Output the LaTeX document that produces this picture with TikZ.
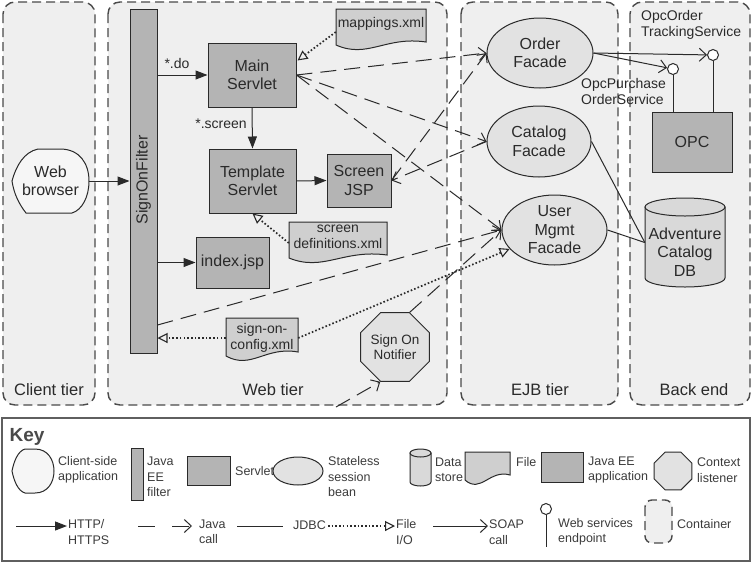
\documentclass[tikz,border=0pt]{standalone}
\usepackage{fontspec}
\setmainfont{Liberation Sans}
\usetikzlibrary{shapes.geometric,arrows.meta,calc}
\definecolor{cont}{HTML}{EFEFEF}
\definecolor{servletgray}{HTML}{B4B4B4}
\definecolor{beangray}{HTML}{E2E2E2}
\definecolor{filegray}{HTML}{CFCFCF}
\definecolor{dbgray}{HTML}{D9D9D9}
\definecolor{ink}{HTML}{2A2A2A}
\definecolor{keyink}{HTML}{3C3C3C}
\definecolor{clientfill}{HTML}{F6F6F6}
\newcommand\fsmain{\fontsize{16}{18.5}\selectfont}
\newcommand\fsfile{\fontsize{14}{15.5}\selectfont}
\newcommand\fssmall{\fontsize{14}{16}\selectfont}
\newcommand\fsnot{\fontsize{13.5}{14.5}\selectfont}
\newcommand\fskey{\fontsize{12.5}{15.5}\selectfont}
\newcommand\fstier{\fontsize{16.5}{19}\selectfont}
\newcommand\fskeyt{\fontsize{19}{21}\selectfont\bfseries}
\newcommand\docpath[5]{\draw[filestyle] (#1,#2) -- (#3,#2) -- (#3,#5) .. controls ({0.45*#1+0.55*#3},{#5-6}) and ({0.65*#1+0.35*#3},{#4+14}) .. (#1,#4) -- cycle;}
\tikzset{
  container/.style={draw=ink!85, line width=1.4pt, dash pattern=on 9pt off 5pt, rounded corners=12pt, fill=cont},
  servlet/.style={draw=ink, line width=1pt, fill=servletgray, inner sep=0pt, align=center, font=\fsmain, text=ink},
  bean/.style={ellipse, draw=ink, line width=1pt, fill=beangray, inner sep=0pt, align=center, font=\fsmain, text=ink},
  octo/.style={regular polygon, regular polygon sides=8, draw=ink, line width=1pt, fill=beangray, inner sep=0pt, align=center, font=\fsnot, text=ink},
  filestyle/.style={draw=ink, line width=1pt, fill=filegray},
  filelab/.style={inner sep=0pt, align=center, font=\fsfile, text=ink},
  tierlab/.style={font=\fstier, text=ink},
  smlab/.style={font=\fssmall, text=ink, inner sep=0pt},
  keylab/.style={font=\fskey, text=keyink, inner sep=0pt, anchor=west, align=left},
  endpt/.style={circle, draw=ink, line width=1pt, fill=white, minimum size=11pt, inner sep=0pt},
  http/.style={draw=ink, line width=1pt, -{Triangle[length=12pt,width=9pt]}},
  java/.style={draw=ink, line width=1pt, dash pattern=on 16pt off 8pt, -{Straight Barb[length=7pt,width=13pt,line width=1pt]}},
  fileio/.style={draw=ink, line width=1.7pt, dash pattern=on 1.6pt off 2.1pt, -{Triangle[open,length=10pt,width=10pt,line width=1.1pt]}},
  soap/.style={draw=ink, line width=1pt, -{Straight Barb[length=7pt,width=13pt,line width=1pt]}},
  jdbc/.style={draw=ink, line width=1pt},
}
\begin{document}
\begin{tikzpicture}[x=1pt,y=-1pt]
\useasboundingbox (0,0) rectangle (752,563);
\fill[white] (0,0) rectangle (752,563);

% containers
\draw[container] (3,2) rectangle (95,405);
\draw[container] (108,2) rectangle (447,405);
\draw[container] (461,2) rectangle (618,405);
\draw[container] (630,2) rectangle (750,405);
\node[tierlab] (lct) at (49,390) {Client tier};
\node[tierlab] (lwt) at (273,390) {Web tier};
\node[tierlab] (let) at (540,390) {EJB tier};
\node[tierlab] (lbe) at (694,390) {Back end};

% web browser (client-side application)
\draw[draw=ink, line width=1pt, fill=clientfill] (12,181) .. controls (16,166) and (24,152) .. (38,149) -- (60,149) .. controls (80,149) and (89,164) .. (89,181) .. controls (89,197) and (82,210) .. (72,213) -- (26,213) .. controls (19,204) and (14,194) .. (12,181) -- cycle;
\node[font=\fsmain, text=ink, align=center, minimum width=77pt, minimum height=64pt, inner sep=0pt] (wb) at (50.5,181) {Web\\browser};

% SignOnFilter
\node[servlet, minimum width=27pt, minimum height=344pt] (sof) at (143.5,181) {};
\node[rotate=90, font=\fsmain, text=ink, inner sep=0pt] (sofl) at (143.5,180) {SignOnFilter};

% servlets / jsps
\node[servlet, minimum width=88pt, minimum height=64pt] (ms) at (252,75) {Main\\Servlet};
\node[servlet, minimum width=87pt, minimum height=64pt] (ts) at (252.5,181) {Template\\Servlet};
\node[servlet, minimum width=64pt, minimum height=53pt] (sj) at (359,180.5) {Screen\\JSP};
\node[servlet, minimum width=73pt, minimum height=51pt] (ij) at (232.5,262.5) {index.jsp};

% files
\docpath{336}{9}{426}{45}{42}
\node[filelab, minimum width=90pt, minimum height=30pt] (mx) at (381,24) {mappings.xml};
\docpath{289}{222}{387}{258}{255}
\node[filelab, minimum width=98pt, minimum height=30pt] (sd) at (338,237) {screen\\definitions.xml};
\docpath{226}{318}{298}{356}{352}
\node[filelab, minimum width=72pt, minimum height=38pt] (sc) at (262,338) {sign-on-\\config.xml};

% sign on notifier
\node[octo, minimum size=69pt] (son) at (395,347) {Sign On\\Notifier};

% EJB facades
\node[bean, minimum width=106pt, minimum height=70pt] (of) at (540,53) {Order\\Facade};
\node[bean, minimum width=104pt, minimum height=71pt] (cf) at (539,141.5) {Catalog\\Facade};
\node[bean, minimum width=105pt, minimum height=70pt] (um) at (554.5,230) {User\\Mgmt\\Facade};

% back end
\node[servlet, minimum width=80pt, minimum height=60pt] (opc) at (692,142) {OPC};
\node[endpt] (ept) at (713,55) {};
\node[endpt] (epp) at (673,69) {};
\draw[jdbc] (ept.south) -- (ept.south |- opc.north);
\draw[jdbc] (epp.south) -- (epp.south |- opc.north);
\node[smlab, anchor=west, align=left] (lbtrack) at (641,25) {OpcOrder\\TrackingService};
\node[smlab, anchor=west, align=left] (lbpurch) at (581,91) {OpcPurchase\\OrderService};

\path[draw=ink, line width=1pt, fill=dbgray] (645,207) -- (645,278) .. controls (645,283) and (662.9,287) .. (685,287) .. controls (707.1,287) and (725,283) .. (725,278) -- (725,207) -- cycle;
\draw[draw=ink, line width=1pt, fill=dbgray] (685,207) ellipse [x radius=40pt, y radius=9pt];
\node[inner sep=0pt, minimum width=80pt, minimum height=89pt] (db) at (685,242.5) {};
\node[font=\fsmain, text=ink, align=center, inner sep=0pt] (dbl) at (685,252) {Adventure\\Catalog\\DB};

% labels on arrows
\node[smlab] (ldo) at (177,63) {*.do};
\node[smlab] (lscr) at (221,124) {*.screen};

% HTTP
\draw[http] (wb.east) -- (sof.west |- wb.east);
\draw[http] (sof.east |- ms.west) -- (ms.west);
\draw[http] (ms.south) -- (ts.north);
\draw[http] (ts.east) -- (sj.west);
\draw[http] (sof.east |- ij.west) -- (ij.west);

% File I/O
\draw[fileio] ($(mx.west)+(0,8)$) -- ($(ms.north east)+(1,18)$);
\draw[fileio] ($(sd.west)+(0,6)$) -- (ts.south);
\draw[fileio] (sc.west) -- (sof.east |- sc.west);
\draw[fileio] (sc.east) -- (um);

% Java calls
\coordinate (c325) at (0,325);
\coordinate (cbot) at (336,407);
\draw[java] (ms.east) -- (of.west);
\draw[java] (ms.east) -- (cf.west);
\draw[java] (ms.east) -- (um.west);
\draw[java] (sj.east) -- (of.west);
\draw[java] (cf.west) -- (sj.east);
\draw[java] (sof.east |- c325) -- (um.west);
\draw[java] (son.67.5) -- (um.west);
\draw[java] (cbot) -- (son.247.5);

% SOAP
\draw[soap] (of.east) -- (ept);
\draw[soap] (of.east) -- (epp);

% JDBC
\draw[jdbc] (cf.east) -- (db.west);
\draw[jdbc] (um.east) -- (db.west);

% ---------------- Key ----------------
\draw[draw=ink!75, line width=1.5pt, fill=white] (2,418) rectangle (750,561);
\node[font=\fskeyt, text=ink!85, inner sep=0pt] (keyt) at (27,437) {Key};

\draw[draw=ink, line width=1pt, fill=clientfill] (12,471) .. controls (14,461) and (18,451) .. (25,449) -- (35,449) .. controls (48,449) and (54,460) .. (54,471) .. controls (54,482) and (48,493) .. (35,493) -- (25,493) .. controls (18,491) and (14,481) .. (12,471) -- cycle;
\node[keylab] (k1) at (58,470) {Client-side\\application};
\node[servlet, minimum width=12pt, minimum height=52pt] (kfilt) at (137,474) {};
\node[keylab] (k2) at (147,477) {Java\\EE\\filter};
\node[servlet, minimum width=43pt, minimum height=29pt] (kserv) at (208.5,470.5) {};
\node[keylab] (k3) at (235,471) {Servlet};
\node[bean, minimum width=50pt, minimum height=28pt] (kbean) at (298,471) {};
\node[keylab] (k4) at (328,477) {Stateless\\session\\bean};
\path[draw=ink, line width=1pt, fill=dbgray] (410,453) -- (410,482) .. controls (410,484.2) and (414.7,486) .. (420.5,486) .. controls (426.3,486) and (431,484.2) .. (431,482) -- (431,453) -- cycle;
\draw[draw=ink, line width=1pt, fill=dbgray] (420.5,453) ellipse [x radius=10.5pt, y radius=4pt];
\node[keylab] (k5) at (435,470) {Data\\store};
\docpath{465}{452}{510}{480}{475}
\node[keylab] (k6) at (516,462) {File};
\node[servlet, minimum width=42pt, minimum height=30pt] (kapp) at (562,467) {};
\node[keylab] (k7) at (588,470) {Java EE\\application};
\node[octo, minimum size=41pt] (kctx) at (673,471) {};
\node[keylab] (k8) at (697,470) {Context\\listener};

\coordinate (ka1) at (16,526); \coordinate (ka2) at (67,526);
\draw[http] (ka1) -- (ka2);
\node[keylab] (k9) at (68,532) {HTTP/\\HTTPS};
\coordinate (kb1) at (138,526); \coordinate (kb2) at (192,526);
\draw[java, dash pattern=on 17pt off 17pt] (kb1) -- (kb2);
\node[keylab] (k10) at (199,532) {Java\\call};
\coordinate (kc1) at (237,526); \coordinate (kc2) at (283,526);
\draw[jdbc] (kc1) -- (kc2);
\node[keylab] (k11) at (293,525) {JDBC};
\coordinate (kd1) at (328,526); \coordinate (kd2) at (395,526);
\draw[fileio] (kd1) -- (kd2);
\node[keylab] (k12) at (396,532) {File\\I/O};
\coordinate (ke1) at (433,526); \coordinate (ke2) at (488,526);
\draw[soap] (ke1) -- (ke2);
\node[keylab] (k13) at (489,532) {SOAP\\call};
\node[endpt] (kep) at (546,509) {};
\coordinate (kf2) at (546,547);
\draw[jdbc] (kep.south) -- (kf2);
\node[keylab] (k14) at (558,532) {Web services\\endpoint};
\draw[container, rounded corners=7pt] (645,500) rectangle (672,543);
\node[keylab] (k15) at (677,524) {Container};
\end{tikzpicture}
\end{document}
